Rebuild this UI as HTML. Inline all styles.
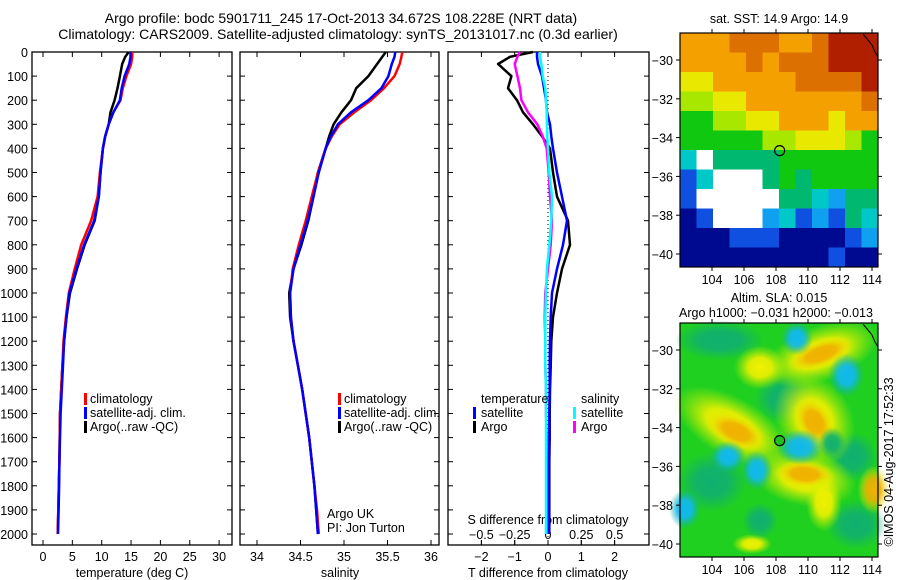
<!DOCTYPE html>
<html><head><meta charset="utf-8">
<style>
html,body{margin:0;padding:0;background:#fff;}
svg{display:block;font-family:"Liberation Sans",sans-serif;}
text{font-size:12.5px;fill:#000;}
</style></head>
<body>
<svg id="c" width="900" height="580" viewBox="0 0 900 580" xmlns="http://www.w3.org/2000/svg">
<rect width="900" height="580" fill="#fff"/>
<text x="341" y="23" text-anchor="middle" style="font-size:14px">Argo profile: bodc 5901711_245 17-Oct-2013 34.672S 108.228E (NRT data)</text>
<text x="338" y="39" text-anchor="middle" style="font-size:14px">Climatology: CARS2009. Satellite-adjusted climatology: synTS_20131017.nc (0.3d earlier)</text>
<g id="panels"></g>
<g id="maps"></g>
<text x="0" y="0" transform="translate(893,462) rotate(-90)" text-anchor="middle">©IMOS 04-Aug-2017 17:52:33</text>
</svg>
<script>
// ---- data ----
const depth = [0,20,50,100,150,200,250,300,350,400,500,600,700,800,900,1000,1100,1200,1300,1400,1500,1600,1700,1800,1900,2000];
const tClim = [15.2,15.2,15.0,14.2,13.6,13.2,12.0,11.2,10.6,10.2,9.7,9.3,8.2,6.5,5.4,4.4,3.9,3.5,3.3,3.1,2.9,2.85,2.8,2.7,2.6,2.5];
const tSat  = [14.9,14.9,14.7,13.9,13.4,13.1,12.0,11.2,10.6,10.2,9.8,9.5,8.7,7.0,5.7,4.5,4.0,3.6,3.4,3.2,3.0,2.9,2.8,2.75,2.65,2.55];
const tArgo = [14.6,14.0,13.5,13.1,12.7,12.2,11.5,11.2,10.6,10.2,9.8,9.5,8.8,7.1,5.8,4.6,4.0,3.6,3.3,3.1,2.9,2.85,2.8,2.7,2.6,2.5];
const sClim = [35.67,35.66,35.64,35.58,35.46,35.31,35.12,34.95,34.86,34.79,34.70,34.63,34.56,34.48,34.41,34.38,34.39,34.42,34.47,34.52,34.56,34.60,34.63,34.66,34.69,34.71];
const sSat  = [35.59,35.58,35.55,35.51,35.43,35.28,35.08,34.93,34.85,34.79,34.71,34.65,34.58,34.50,34.42,34.38,34.39,34.42,34.47,34.52,34.56,34.60,34.63,34.66,34.68,34.70];
const sArgo = [35.48,35.44,35.38,35.28,35.14,35.08,34.97,34.88,34.83,34.79,34.70,34.65,34.59,34.51,34.42,34.37,34.38,34.42,34.47,34.52,34.56,34.60,34.63,34.66,34.68,34.70];
const dTSat  = [-0.33,-0.33,-0.3,-0.18,-0.12,-0.06,-0.03,0.06,0.1,0.15,0.27,0.42,0.57,0.45,0.27,0.12,0.08,0.06,0.05,0.05,0.04,0.04,0.03,0.03,0.03,0.03];
const dTArgo = [-0.45,-1.14,-1.5,-1.1,-1.2,-0.93,-0.75,-0.45,-0.18,0.06,0.15,0.27,0.6,0.66,0.42,0.27,0.15,0.1,0.08,0.06,0.05,0.05,0.04,0.04,0.04,0.04];
const dSArgo = [-0.21,-0.23,-0.25,-0.23,-0.21,-0.2,-0.15,-0.08,-0.04,-0.01,0.005,0.015,0.03,0.02,0.0,-0.02,-0.025,-0.02,-0.02,-0.015,-0.015,-0.01,-0.01,-0.01,-0.01,-0.01];
const dSSat  = [-0.06,-0.06,-0.05,-0.04,-0.02,-0.015,-0.01,-0.008,-0.005,0.0,0.01,0.03,0.025,0.01,-0.008,-0.015,-0.02,-0.02,-0.02,-0.015,-0.015,-0.015,-0.015,-0.015,-0.015,-0.015];
const depthTicks = [0,100,200,300,400,500,600,700,800,900,1000,1100,1200,1300,1400,1500,1600,1700,1800,1900,2000];
const tTicks = [0,5,10,15,20,25,30];
const sTicks = [34,34.5,35,35.5,36];
const sTickLabels = ["34","34.5","35","35.5","36"];
const dTTicks = [-2,-1,0,1,2];
const dSTicks = [-0.5,-0.25,0,0.25,0.5];
const dSTickLabels = ["\u22120.5","\u22120.25","0","0.25","0.5"];

const NS="http://www.w3.org/2000/svg";
function el(tag, attrs, parent){const e=document.createElementNS(NS,tag);for(const k in attrs)e.setAttribute(k,attrs[k]);parent.appendChild(e);return e;}
const P=document.getElementById('panels');
const TOP=52, BOT=545;
const yD = d => 52 + d*0.2410;
const xT = t => 43 + t*5.87;
const xS = s => 257 + (s-34)*87;
const xDT = t => 548 + t*33.3;
const xDS = s => 548 + s*133.2;

function frame(x0,x1,name){
  const r=el('rect',{x:x0,y:TOP,width:x1-x0,height:BOT-TOP,fill:'none',stroke:'#000','stroke-width':1.3},P);
  
  
  depthTicks.forEach(d=>{
    el('line',{x1:x0,x2:x0+5,y1:yD(d),y2:yD(d),stroke:'#000'},P);
    el('line',{x1:x1-5,x2:x1,y1:yD(d),y2:yD(d),stroke:'#000'},P);
  });
}
function xticks(vals,labels,fx,y,name){
  vals.forEach((v,i)=>{
    el('line',{x1:fx(v),x2:fx(v),y1:BOT,y2:BOT-5,stroke:'#000'},P);
    el('line',{x1:fx(v),x2:fx(v),y1:TOP,y2:TOP+5,stroke:'#000'},P);
    const t=el('text',{x:fx(v),y:y,'text-anchor':'middle'},P);
    t.textContent=labels[i];
    
    
  });
}
function line(vals,fx,color,name){
  const pts=vals.map((v,i)=>fx(v).toFixed(1)+','+yD(depth[i]).toFixed(1));
  const p=el('polyline',{points:pts.join(' '),fill:'none',stroke:color,'stroke-width':2.5,'stroke-linejoin':'round'},P);
  
  
}
function txt(x,y,s,name,anchor){
  const t=el('text',{x:x,y:y,'text-anchor':anchor||'start'},P);
  t.textContent=s;
  
  
  return t;
}
function bar(x,y,c,name){
  const r=el('rect',{x:x,y:y-10,width:3,height:12,fill:c},P);
  
  
}

frame(32,232,'temperature-panel');
frame(240,439,'salinity-panel');
frame(448,649,'difference-panel');
depthTicks.forEach(d=>{txt(28,yD(d)+5,String(d),'depth-tick-label','end');});
xticks(tTicks,tTicks.map(String),xT,561,'temperature-tick-label');
xticks(sTicks,sTickLabels,xS,561,'salinity-tick-label');
xticks(dTTicks,dTTicks.map(v=>v<0?'\u2212'+(-v):String(v)),xDT,561,'t-diff-tick-label');
dSTicks.forEach((v,i)=>{txt(xDS(v),539,dSTickLabels[i],'s-diff-tick-label','middle');
  el('line',{x1:xDS(v),x2:xDS(v),y1:BOT,y2:BOT-5,stroke:'#000'},P);});
txt(132,577,'temperature (deg C)','temperature-axis-title','middle');
txt(340,577,'salinity','salinity-axis-title','middle');
txt(548,577,'T difference from climatology','t-diff-axis-title','middle');
txt(548,524,'S difference from climatology','s-diff-axis-title','middle');
el('line',{x1:548,x2:548,y1:TOP,y2:BOT,stroke:'#000','stroke-dasharray':'1,3'},P);

line(tArgo,xT,'#000000','temp-argo-line');
line(tClim,xT,'#ff0000','temp-climatology-line');
line(tSat,xT,'#0000ff','temp-satellite-line');
line(sArgo,xS,'#000000','sal-argo-line');
line(sClim,xS,'#ff0000','sal-climatology-line');
line(sSat,xS,'#0000ff','sal-satellite-line');
line(dTArgo,xDT,'#000000','tdiff-argo-line');
line(dSArgo,xDS,'#ff00ff','sdiff-argo-line');
line(dTSat,xDT,'#0000ff','tdiff-satellite-line');
line(dSSat,xDS,'#00ffff','sdiff-satellite-line');

[[84,90],[338,344]].forEach(([bx,tx])=>{
  bar(bx,403,'#ff0000','legend-climatology');txt(tx,403,'climatology','legend-climatology-label');
  bar(bx,417,'#0000ff','legend-satellite');txt(tx,417,'satellite-adj. clim.','legend-satellite-label');
  bar(bx,431,'#000000','legend-argo');txt(tx,431,'Argo(..raw -QC)','legend-argo-label');
});
txt(481,403,'temperature','legend-temperature-header');
bar(473,417,'#0000ff','legend-t-satellite');txt(481,417,'satellite','legend-t-satellite-label');
bar(473,431,'#000000','legend-t-argo');txt(481,431,'Argo','legend-t-argo-label');
txt(581,403,'salinity','legend-salinity-header');
bar(573,417,'#00ffff','legend-s-satellite');txt(581,417,'satellite','legend-s-satellite-label');
bar(573,431,'#ff00ff','legend-s-argo');txt(581,431,'Argo','legend-s-argo-label');
txt(327,518,'Argo UK','argo-uk-label');
txt(327,532,'PI: Jon Turton','pi-label');

// ---- maps ----
const M=document.getElementById('maps');
const MX0=680, MX1=878;
const mx = lon => 712 + (lon-104)*16;
const cols={O:'#f4a000',R:'#dc7000',D:'#b02000',Y:'#e8e800',L:'#a8e800',G:'#10c810',g:'#00b870',C:'#00c8c8',c:'#10a0f0',B:'#1050e0',N:'#000a90',W:'#ffffff'};
const sstGrid=[
"OOORRROORDDD",
"OOOORORRRDDD",
"YYOOOOORRRRD",
"LLYYOOOOOOOR",
"GGLLYYOOOYOO",
"GGGGGLLYYYLG",
"CWggggGGGGGG",
"BCWWWgGgGGGG",
"BWWWWWggCcgg",
"NBWWWcCBcBgC",
"NNNBBBNNNNBc",
"NNNNNNNNNBNN"];
function mapFrame(y0,y1,fy,name){
  const r=el('rect',{x:MX0,y:y0,width:MX1-MX0,height:y1-y0,fill:'none',stroke:'#000','stroke-width':1.2},M);
  
  
  [104,106,108,110,112,114].forEach(l=>{
    el('line',{x1:mx(l),x2:mx(l),y1:y1,y2:y1+4,stroke:'#000'},M);
    el('line',{x1:mx(l),x2:mx(l),y1:y0,y2:y0-4,stroke:'#000'},M);
    const t=el('text',{x:mx(l),y:y1+17,'text-anchor':'middle'},M);t.textContent=String(l);
    
    
  });
  [-30,-32,-34,-36,-38,-40].forEach(l=>{
    el('line',{x1:MX0-4,x2:MX0,y1:fy(l),y2:fy(l),stroke:'#000'},M);
    el('line',{x1:MX1,x2:MX1+4,y1:fy(l),y2:fy(l),stroke:'#000'},M);
    const t=el('text',{x:MX0-7,y:fy(l)+5,'text-anchor':'end'},M);t.textContent='\u2212'+(-l);
    
    
  });
}
const y1f = lat => 60 + (-30-lat)*19.4;
const cw=(MX1-MX0)/12, ch=(267-33)/12;
sstGrid.forEach((row,r)=>{[...row].forEach((k,c)=>{
  el('rect',{x:MX0+c*cw,y:33+r*ch,width:cw+0.5,height:ch+0.5,fill:cols[k]},M);
});});
el('path',{d:'M863,34 L868,40 L872,45 L875,52 L878,57',fill:'none',stroke:'#000'},M);
el('circle',{cx:mx(108.228),cy:y1f(-34.672),r:5,fill:'none',stroke:'#000','stroke-width':1.2},M);
mapFrame(33,267,y1f,'sst-map');
let t1=el('text',{x:779,y:23,'text-anchor':'middle'},M);t1.textContent='sat. SST: 14.9 Argo: 14.9';



const y2f = lat => 350 + (-30-lat)*19.4;
const defs=el('defs',{},M);
function grad(id,c1,c2){const g=el('radialGradient',{id:id},defs);
  el('stop',{offset:'0%','stop-color':c1},g);el('stop',{offset:'45%','stop-color':c1,'stop-opacity':0.9},g);
  el('stop',{offset:'100%','stop-color':c2,'stop-opacity':0},g);}
grad('gy','#f0b000','#f0f000');grad('gyy','#f0f000','#c0f000');grad('gc','#10b8f0','#10b0a0');grad('gt','#10b070','#10b070');
el('rect',{x:MX0,y:323,width:MX1-MX0,height:234,fill:'#20d020'},M);
function blob(lon,lat,rx,ry,rot,fill){
  const cx=mx(lon),cy=y2f(lat);
  el('ellipse',{cx:cx,cy:cy,rx:rx,ry:ry,fill:'url(#'+fill+')',transform:'rotate('+rot+' '+cx+' '+cy+')'},M);
}
blob(104.5,-29.5,45,20,0,'gt');blob(108.5,-32.5,30,25,0,'gt');blob(104,-36.8,35,30,0,'gt');blob(113,-39,30,25,0,'gt');blob(112.8,-35.5,25,25,0,'gt');
blob(110.8,-30.2,60,28,-20,'gyy');blob(110.8,-30.2,35,14,-20,'gy');
blob(107,-30.9,26,22,0,'gyy');
blob(105.3,-34.0,65,30,30,'gyy');blob(105.5,-34.2,32,16,25,'gy');
blob(110.4,-33.6,38,48,-30,'gyy');blob(110.4,-33.7,18,26,-30,'gy');
blob(109.8,-36.6,52,28,10,'gyy');blob(109.8,-36.4,30,14,5,'gy');
blob(111,-37.9,18,28,0,'gyy');
blob(114.1,-37.2,16,24,0,'gy');
blob(106.5,-40,20,10,0,'gyy');
blob(112.4,-31.3,18,22,0,'gc');blob(109.3,-29.4,16,17,0,'gc');
blob(109.5,-35,24,18,0,'gc');blob(106.8,-36.2,16,20,0,'gc');
blob(105,-35.5,18,16,0,'gc');blob(102.3,-38.2,16,20,0,'gc');
blob(107,-38.8,18,18,0,'gt');blob(111.5,-34.8,14,16,0,'gt');
el('path',{d:'M863,324 L868,330 L872,335 L875,342 L878,347',fill:'none',stroke:'#000'},M);
el('circle',{cx:mx(108.228),cy:y2f(-34.672),r:5,fill:'#20c020',stroke:'#000','stroke-width':1.2},M);
mapFrame(323,557,y2f,'sla-map');
let t2=el('text',{x:779,y:302,'text-anchor':'middle'},M);t2.textContent='Altim. SLA: 0.015';


let t3=el('text',{x:776,y:317,'text-anchor':'middle'},M);t3.textContent='Argo h1000: \u22120.031 h2000: \u22120.013';


</script>
</body></html>
